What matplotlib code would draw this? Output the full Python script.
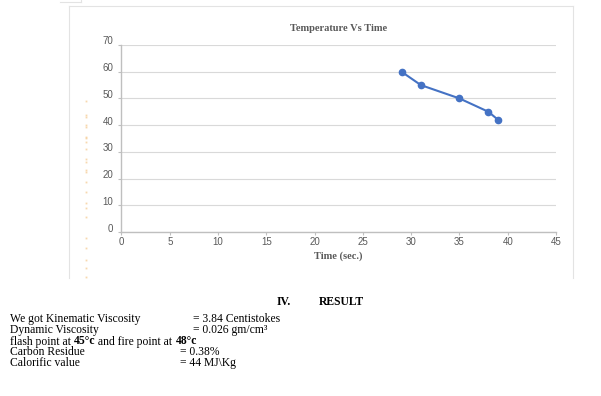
import matplotlib.pyplot as plt
from matplotlib.lines import Line2D
from matplotlib.transforms import ScaledTranslation

# Data.
time_sec = [29, 31, 35, 38, 39]
temperature = [60, 55, 50, 45, 42]
x_ticks = list(range(0, 50, 5))
y_ticks = list(range(0, 80, 10))

result_labels = ["We got Kinematic Viscosity", "Dynamic Viscosity"]
result_values = ["= 3.84 Centistokes", "= 0.026 gm/cm\u00b3"]
extra_labels = ["Carbon Residue", "Calorific value"]
extra_values = ["= 0.38%", "= 44 MJ\\Kg"]
flash_parts = [("flash point at ", "normal"), ("45\u00b0c", "bold"),
               (" and fire point at ", "normal"), ("48\u00b0c", "bold")]

# faint orange marks at the left edge of the page (y in pixels)
page_marks_y = [101, 115, 117, 125, 127, 137, 138, 142, 149, 159, 162, 170,
                172, 182, 192, 203, 208, 217, 238, 248, 260, 268, 277]

W, H = 601, 396
SERIF = "Liberation Serif"
SANS = "Liberation Sans"
GRAY = "#595959"

fig = plt.figure(figsize=(W / 100, H / 100), dpi=100)


def px(x, y):
    return x / W, 1 - y / H


## Chart frame (light gray box from the document).
frame_col = "#e3e3e3"
for (x0, y0), (x1, y1) in [((69, 6), (573, 6)), ((69, 6), (69, 278)),
                           ((573, 6), (573, 278)), ((60, 2), (81, 2)),
                           ((81, 0), (81, 2))]:
    a, b = px(x0, y0)
    c, d = px(x1, y1)
    fig.add_artist(Line2D([a, c], [b, d], color=frame_col, lw=0.8,
                          transform=fig.transFigure))

for y in page_marks_y:
    a, b = px(86, y)
    fig.add_artist(Line2D([a], [b], marker="s", ms=1.3, color="#f6cf9a",
                          mec="none", alpha=0.8, transform=fig.transFigure))

## Chart.
ax = fig.add_axes([121.5 / W, 1 - 232 / H, 434.5 / W, 187 / H])
ax.plot(time_sec, temperature, color="#4472C4", lw=1.5, marker="o",
        ms=4.5, zorder=3)
ax.set_xlim(0, 45)
ax.set_ylim(0, 70)
ax.set_xticks(x_ticks)
ax.set_yticks(y_ticks)
ax.yaxis.grid(color="#d9d9d9", lw=0.8)
ax.set_axisbelow(True)
for side in ["top", "right"]:
    ax.spines[side].set_visible(False)
for side in ["left", "bottom"]:
    ax.spines[side].set_color("#bfbfbf")
    ax.spines[side].set_linewidth(1.0)
ax.tick_params(axis="both", colors="#bfbfbf", length=2.5, width=0.8,
               labelcolor=GRAY, labelsize=7)
ax.tick_params(axis="x", pad=1)
ax.tick_params(axis="y", pad=3.5)
# y labels in the reference sit a bit above their gridline
lift = ScaledTranslation(0, 4.5 / 100, fig.dpi_scale_trans)
for lab in ax.get_yticklabels():
    lab.set_fontfamily(SANS)
    lab.set_transform(lab.get_transform() + lift)
for lab in ax.get_xticklabels():
    lab.set_fontfamily(SANS)

ax.set_title("Temperature Vs Time", fontfamily=SERIF, fontweight="bold",
             fontsize=7.5, color=GRAY, pad=10)
ax.set_xlabel("Time (sec.)", fontfamily=SERIF, fontweight="bold",
              fontsize=7.5, color=GRAY, labelpad=3)

## Result text below the chart.
fs = 8.4
fig.text(*px(277, 302), "IV.", fontfamily=SERIF, fontweight="bold",
         fontsize=fs, va="center")
fig.text(*px(319, 302), "RESULT", fontfamily=SERIF, fontweight="bold",
         fontsize=fs, va="center")

rows_y = [319, 330.5, 341.5, 352, 363]
for i, (lab, val) in enumerate(zip(result_labels, result_values)):
    fig.text(*px(10, rows_y[i]), lab, fontfamily=SERIF, fontsize=fs,
             va="center")
    fig.text(*px(193, rows_y[i]), val, fontfamily=SERIF, fontsize=fs,
             va="center")

fig.canvas.draw()
renderer = fig.canvas.get_renderer()
x_cur = 10
for part, weight in flash_parts:
    t = fig.text(*px(x_cur, rows_y[2]), part, fontfamily=SERIF,
                 fontweight=weight, fontsize=fs, va="center")
    x_cur += t.get_window_extent(renderer).width

for i, (lab, val) in enumerate(zip(extra_labels, extra_values)):
    fig.text(*px(10, rows_y[3 + i]), lab, fontfamily=SERIF, fontsize=fs,
             va="center")
    fig.text(*px(180, rows_y[3 + i]), val, fontfamily=SERIF, fontsize=fs,
             va="center")

fig.savefig("out.png", dpi=100)
